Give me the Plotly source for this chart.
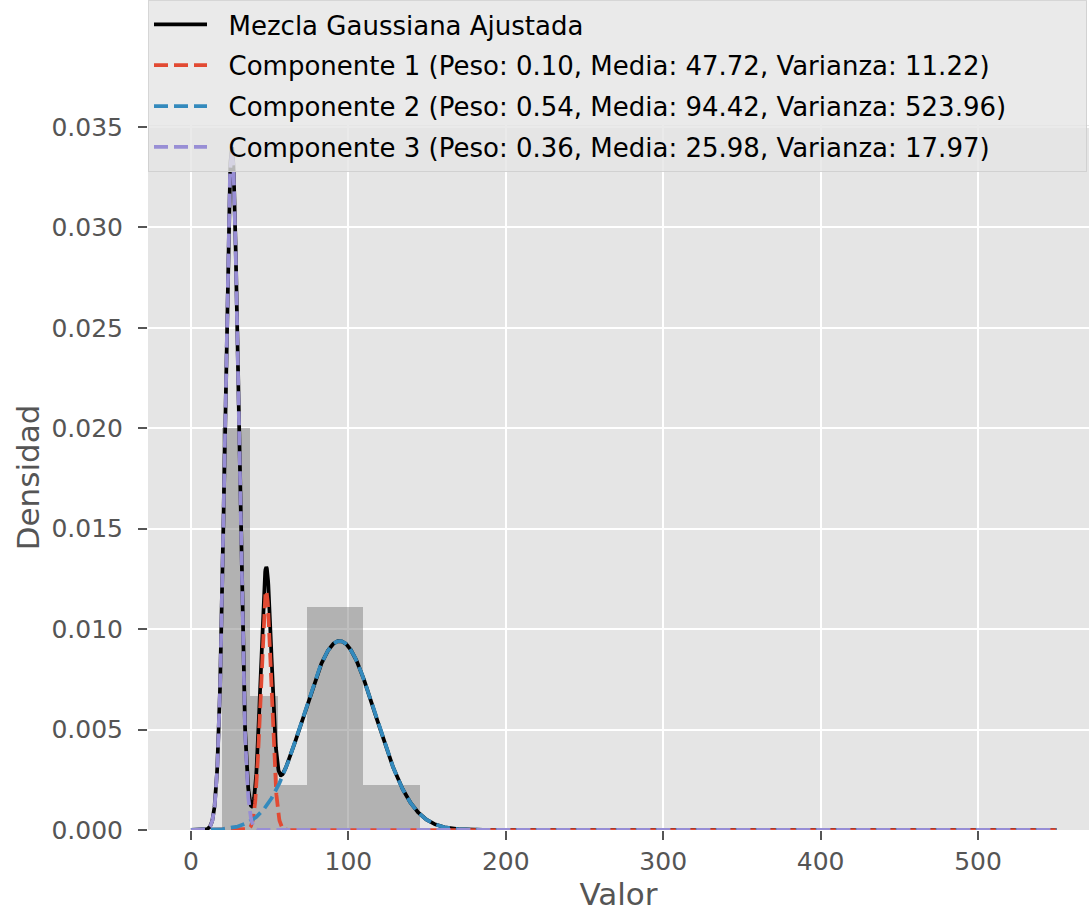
import numpy as np
import plotly.graph_objects as go

# ---- data ----
bin_edges = [19.5, 37.5, 55.5, 73.5, 91.5, 109.5, 127.5, 145.5]
bin_density = [0.0200, 0.00667, 0.00222, 0.01111, 0.01111, 0.00222, 0.00222]

mix_name = "Mezcla Gaussiana Ajustada"
comp_weights = [0.10, 0.54, 0.36]
comp_means = [47.72, 94.42, 25.98]
comp_vars = [11.22, 523.96, 17.97]
comp_colors = ["#E24A33", "#348ABD", "#988ED5"]

x_range_curve = [0, 550]
x_ticks = [0, 100, 200, 300, 400, 500]
y_ticks = [0.000, 0.005, 0.010, 0.015, 0.020, 0.025, 0.030, 0.035]

# ---- build figure ----
xs = np.linspace(x_range_curve[0], x_range_curve[1], 3000)


def gauss(x, w, m, v):
    return w * np.exp(-(x - m) ** 2 / (2 * v)) / np.sqrt(2 * np.pi * v)


comps = [gauss(xs, w, m, v) for w, m, v in zip(comp_weights, comp_means, comp_vars)]
mix = np.sum(comps, axis=0)

fig = go.Figure()

centers = [(a + b) / 2 for a, b in zip(bin_edges[:-1], bin_edges[1:])]
widths = [b - a for a, b in zip(bin_edges[:-1], bin_edges[1:])]
fig.add_trace(go.Bar(x=centers, y=bin_density, width=widths,
                     marker=dict(color="rgba(128,128,128,0.5)", line=dict(width=0)),
                     showlegend=False, hoverinfo="skip"))

lead = "\u00a0\u00a0"
fig.add_trace(go.Scatter(x=xs, y=mix, mode="lines", name=lead + mix_name,
                         line=dict(color="black", width=3.75),
                         legendgroup="g0"))
for i, (w, m, v, c, y) in enumerate(zip(comp_weights, comp_means, comp_vars, comp_colors, comps)):
    name = f"Componente {i+1} (Peso: {w:.2f}, Media: {m:.2f}, Varianza: {v:.2f})"
    trail = "\u00a0" * 9 if i == 1 else ""
    fig.add_trace(go.Scatter(x=xs, y=y, mode="lines", name=lead + name + trail,
                             line=dict(color=c, width=3.75, dash="14px,6px"),
                             legendgroup=f"g{i+1}"))

font_family = "DejaVu Sans"
axis_common = dict(
    showgrid=True, gridcolor="white", gridwidth=2,
    zeroline=False, showline=False,
    ticks="outside", ticklen=9, tickwidth=2, tickcolor="#555555",
    tickfont=dict(family=font_family, size=25, color="#555555"),
)

fig.update_layout(
    width=1089, height=915,
    margin=dict(l=148, r=0, t=125, b=85),
    paper_bgcolor="white", plot_bgcolor="#E5E5E5",
    font=dict(family=font_family),
    xaxis=dict(range=[-27.3, 570.5], tickvals=x_ticks,
               title=dict(text="Valor", font=dict(family=font_family, size=31, color="#555555"), standoff=6),
               **axis_common),
    yaxis=dict(range=[0, 0.0351], tickvals=y_ticks, tickformat=".3f", ticklabelstandoff=10,
               title=dict(text="Densidad", font=dict(family=font_family, size=31, color="#555555"), standoff=2),
               **axis_common),
    legend=dict(x=0, xanchor="left", y=1 + 125 / 705, yanchor="top",
                bgcolor="rgba(229,229,229,0.8)", bordercolor="rgba(204,204,204,0.8)", borderwidth=1,
                font=dict(family=font_family, size=26, color="black"),
                tracegroupgap=4, itemwidth=53),
    bargap=0,
)

fig.write_html("out.html")
